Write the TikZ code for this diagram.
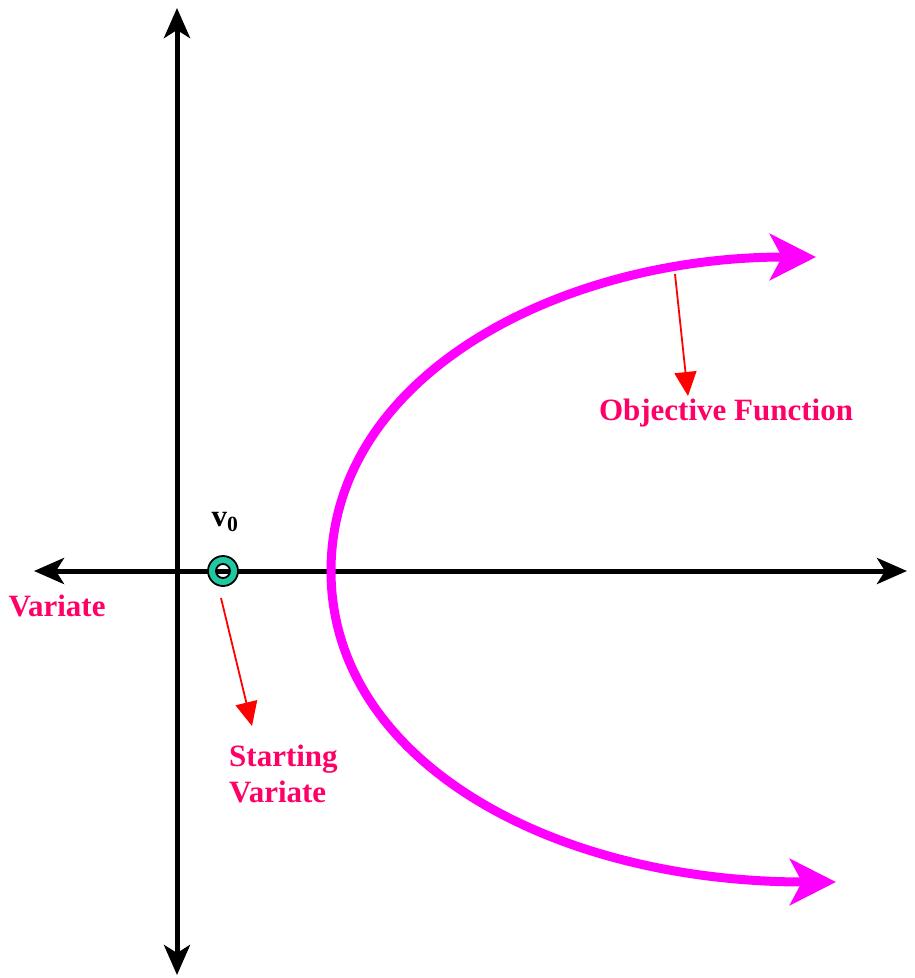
\documentclass[tikz,border=0pt]{standalone}
\usepackage{fontspec}
\setmainfont{Liberation Serif}
\usepackage{tikz}
\usetikzlibrary{arrows.meta}

\definecolor{labelpink}{HTML}{FF0066}
\definecolor{curvemagenta}{HTML}{FF00FF}
\definecolor{ringteal}{HTML}{1FC8A0}

\tikzset{
  axis/.style={line width=5pt, -{Stealth[length=30pt,width=26pt,inset=8pt]}},
  pointer/.style={red, line width=1.8pt, -{Triangle[length=24pt,width=22pt]}},
  tag/.style={text=labelpink, inner sep=0pt, font=\bfseries\fontsize{31}{36}\selectfont}
}

\begin{document}
\begin{tikzpicture}[x=1pt,y=-1pt]
  \useasboundingbox (0,0) rectangle (914,978);
  % axes
  \coordinate (o) at (177,571);
  \coordinate (xl) at (34,571);
  \coordinate (xr) at (907,571);
  \coordinate (yt) at (177,8);
  \coordinate (yb) at (177,975);
  \draw[axis] (o) -- (xl);
  \draw[axis] (o) -- (xr);
  \draw[axis] (o) -- (yt);
  \draw[axis] (o) -- (yb);
  % objective function curve
  \coordinate (ctop) at (816,257);
  \coordinate (cvert) at (331,571);
  \coordinate (cbot) at (836,882);
  \draw[curvemagenta, line width=9pt,
        {Stealth[length=46pt,width=46pt,inset=12pt]}-{Stealth[length=46pt,width=46pt,inset=12pt]}]
    (ctop) .. controls (560,257) and (331,375) .. (cvert)
           .. controls (331,760) and (550,882) .. (cbot);
  % starting point
  \draw[fill=ringteal, line width=1.8pt, even odd rule]
    (223,571) circle[radius=15] (223,571) circle[radius=7];
  \node (v0) at (225,522) {\fontsize{31}{36}\selectfont\bfseries v\textsubscript{0}};
  % labels
  \node[tag] (objf) at (726,413) {Objective Function};
  \node[tag] (var) at (57,606) {Variate};
  \node[tag, align=left, anchor=west] (start) at (229,774) {Starting\\Variate};
  \coordinate (onf) at (675,274);
  \coordinate (onv) at (221,598);
  \coordinate (endf) at (688,396);
  \coordinate (endv) at (252,726);
  \draw[pointer] (onf) -- (endf);
  \draw[pointer] (onv) -- (endv);
\end{tikzpicture}
\end{document}
